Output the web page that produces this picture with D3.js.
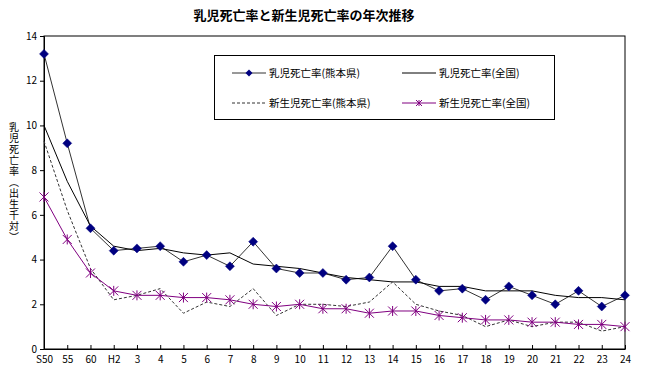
<!DOCTYPE html>
<html>
<head>
<meta charset="utf-8">
<script src="https://cdn.jsdelivr.net/npm/d3@7"></script>
<style>
  body { margin: 0; background: #fff; }
  text { font-family: "Noto Sans CJK JP", "DejaVu Sans", sans-serif; }
</style>
</head>
<body>
<div id="chart"></div>
<script>
const years = ["S50","55","60","H2","3","4","5","6","7","8","9","10","11","12","13","14","15","16","17","18","19","20","21","22","23","24"]

// 乳児死亡率(熊本県)
const infantKumamoto = [13.2,9.2,5.4,4.4,4.5,4.6,3.9,4.2,3.7,4.8,3.6,3.4,3.4,3.1,3.2,4.6,3.1,2.6,2.7,2.2,2.8,2.4,2.0,2.6,1.9,2.4]
// 乳児死亡率(全国)
const infantNational = [10.0,7.5,5.5,4.6,4.4,4.5,4.3,4.2,4.3,3.8,3.7,3.6,3.4,3.2,3.1,3.0,3.0,2.8,2.8,2.6,2.6,2.6,2.4,2.3,2.3,2.2]
// 新生児死亡率(熊本県)
const neonatalKumamoto = [9.3,6.2,3.6,2.2,2.4,2.7,1.6,2.1,1.9,2.7,1.5,2.0,2.0,1.9,2.1,3.0,2.0,1.7,1.5,1.0,1.3,1.0,1.2,1.2,0.8,1.0]
// 新生児死亡率(全国)
const neonatalNational = [6.8,4.9,3.4,2.6,2.4,2.4,2.3,2.3,2.2,2.0,1.9,2.0,1.8,1.8,1.6,1.7,1.7,1.5,1.4,1.3,1.3,1.2,1.2,1.1,1.1,1.0]

const yTicks = [0,2,4,6,8,10,12,14]

const width = 645, height = 376
const margin = { top: 36, right: 20, bottom: 27, left: 44 }

const svg = d3.select("#chart").append("svg")
    .attr("width", width)
    .attr("height", height)

const x = d3.scalePoint()
    .domain(years)
    .range([margin.left, width - margin.right])

const y = d3.scaleLinear()
    .domain([0, 14])
    .range([height - margin.bottom, margin.top])

// タイトル
svg.append("text")
    .attr("x", 304)
    .attr("y", 20)
    .attr("text-anchor", "middle")
    .attr("font-size", "13px")
    .attr("font-weight", "bold")
    .text("乳児死亡率と新生児死亡率の年次推移")

// 枠
svg.append("rect")
    .attr("x", margin.left)
    .attr("y", margin.top)
    .attr("width", width - margin.right - margin.left)
    .attr("height", height - margin.bottom - margin.top)
    .attr("fill", "none")
    .attr("stroke", "#000")
    .attr("stroke-width", 1)

// Y軸
const yAxis = svg.append("g")
    .attr("transform", `translate(${margin.left},0)`)
    .call(d3.axisLeft(y).tickValues(yTicks).tickSize(4).tickPadding(3))
yAxis.select(".domain").attr("stroke", "#000")
yAxis.selectAll("text")
    .attr("font-family", "Arial, 'Liberation Sans', sans-serif")
    .attr("font-size", "10px")

// X軸
const xAxis = svg.append("g")
    .attr("transform", `translate(0,${height - margin.bottom})`)
    .call(d3.axisBottom(x).tickSizeInner(-4).tickSizeOuter(0).tickPadding(7))
xAxis.select(".domain").attr("stroke", "#000")
xAxis.selectAll("text")
    .attr("font-family", "Arial, 'Liberation Sans', sans-serif")
    .attr("font-size", "10px")

// Y軸ラベル（縦書き）
svg.append("text")
    .attr("x", 14)
    .attr("y", 122)
    .attr("font-size", "10px")
    .style("writing-mode", "vertical-rl")
    .style("letter-spacing", "1px")
    .text("乳児死亡率（出生千対）")

const line = d3.line()
    .x((d, i) => x(years[i]))
    .y(d => y(d))

const series = [
    { name: "乳児死亡率(熊本県)", values: infantKumamoto, stroke: "#333", dash: null, marker: "diamond" },
    { name: "乳児死亡率(全国)", values: infantNational, stroke: "#000", dash: null, marker: null },
    { name: "新生児死亡率(熊本県)", values: neonatalKumamoto, stroke: "#333", dash: "3,2", marker: null },
    { name: "新生児死亡率(全国)", values: neonatalNational, stroke: "#800080", dash: null, marker: "star" }
]

const plot = svg.append("g")

plot.selectAll(".series-line")
    .data(series)
    .join("path")
    .attr("class", "series-line")
    .attr("fill", "none")
    .attr("stroke", d => d.stroke)
    .attr("stroke-width", 1)
    .attr("stroke-dasharray", d => d.dash)
    .attr("d", d => line(d.values))

function drawMarker(g, type, cx, cy) {
    if (type === "diamond") {
        const r = 4.5
        g.append("path")
            .attr("d", `M${cx},${cy - r}L${cx + r},${cy}L${cx},${cy + r}L${cx - r},${cy}Z`)
            .attr("fill", "#000080")
            .attr("stroke", "#000080")
            .attr("stroke-width", 0.5)
    } else if (type === "star") {
        const r = 4.5
        g.append("path")
            .attr("d", `M${cx - r},${cy - r}L${cx + r},${cy + r}M${cx - r},${cy + r}L${cx + r},${cy - r}M${cx},${cy - r - 0.5}L${cx},${cy + r + 0.5}`)
            .attr("stroke", "#800080")
            .attr("stroke-width", 1)
            .attr("fill", "none")
    }
}

series.filter(s => s.marker).forEach(s => {
    const g = plot.append("g")
    s.values.forEach((v, i) => drawMarker(g, s.marker, x(years[i]), y(v)))
})

// 凡例
const legend = svg.append("g")
legend.append("rect")
    .attr("x", 214.5)
    .attr("y", 55.5)
    .attr("width", 340)
    .attr("height", 64)
    .attr("fill", "#fff")
    .attr("stroke", "#000")

const legendPos = [
    { x: 232, y: 73 },
    { x: 402, y: 73 },
    { x: 232, y: 103 },
    { x: 402, y: 103 }
]

series.forEach((s, i) => {
    const p = legendPos[i]
    const g = legend.append("g")
    g.append("line")
        .attr("x1", p.x).attr("x2", p.x + 34)
        .attr("y1", p.y).attr("y2", p.y)
        .attr("stroke", s.stroke)
        .attr("stroke-dasharray", s.dash)
    if (s.marker === "diamond") {
        g.append("path")
            .attr("d", `M${p.x + 17},${p.y - 3.5}L${p.x + 20.5},${p.y}L${p.x + 17},${p.y + 3.5}L${p.x + 13.5},${p.y}Z`)
            .attr("fill", "#000080")
    } else if (s.marker === "star") {
        const r = 3
        g.append("path")
            .attr("d", `M${p.x + 17 - r},${p.y - r}L${p.x + 17 + r},${p.y + r}M${p.x + 17 - r},${p.y + r}L${p.x + 17 + r},${p.y - r}M${p.x + 17},${p.y - r}L${p.x + 17},${p.y + r}`)
            .attr("stroke", "#800080")
    }
    g.append("text")
        .attr("x", p.x + 37)
        .attr("y", p.y)
        .attr("dy", "0.35em")
        .attr("font-size", "10.5px")
        .text(s.name)
})
</script>
</body>
</html>
